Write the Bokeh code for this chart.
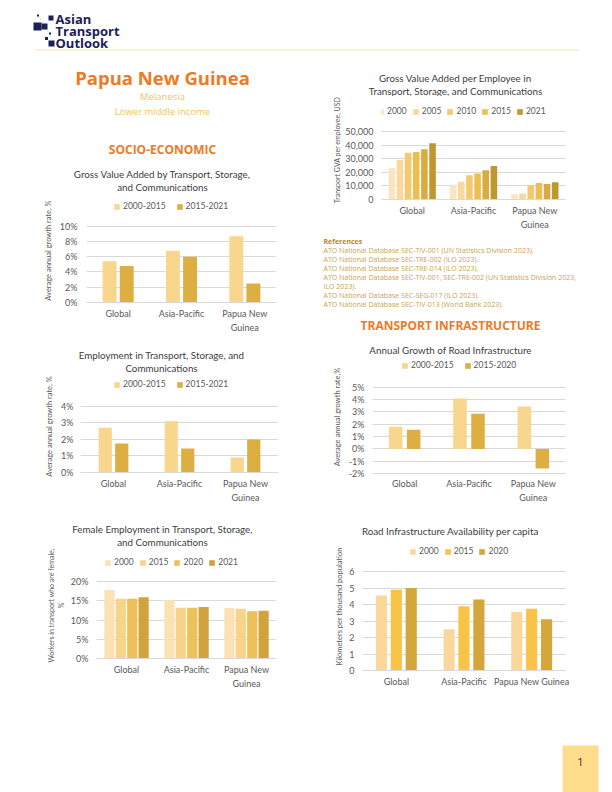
from bokeh.plotting import figure
from bokeh.models import (Range1d, FactorRange, PrintfTickFormatter, NumeralTickFormatter,
                          Legend, LegendItem, ColumnDataSource, CategoricalAxis, Plot,
                          CustomJSTickFormatter)
from bokeh.layouts import column, row
from bokeh.transform import dodge
from bokeh.core.properties import value
from bokeh.embed import file_html
from bokeh.resources import INLINE

# ---------------- data ----------------
regions = ["Global", "Asia-Pacific", "Papua New Guinea"]

gva_periods = ["2000-2015", "2015-2021"]
gva_2000_2015 = [5.4, 6.8, 8.7]
gva_2015_2021 = [4.8, 6.0, 2.5]
gva_ticks = [0, 2, 4, 6, 8, 10]

emp_periods = ["2000-2015", "2015-2021"]
emp_2000_2015 = [2.7, 3.1, 0.9]
emp_2015_2021 = [1.75, 1.45, 2.0]
emp_ticks = [0, 1, 2, 3, 4]

fem_years = ["2000", "2015", "2020", "2021"]
fem_2000 = [17.8, 15.2, 13.1]
fem_2015 = [15.5, 13.2, 12.9]
fem_2020 = [15.5, 13.2, 12.3]
fem_2021 = [15.9, 13.4, 12.4]
fem_ticks = [0, 5, 10, 15, 20]

gvape_years = ["2000", "2005", "2010", "2015", "2020", "2021"]
gvape_2000 = [23000, 10900, 3900]
gvape_2005 = [29000, 13100, 4400]
gvape_2010 = [34400, 17900, 10400]
gvape_2015 = [34900, 19100, 12100]
gvape_2020 = [37000, 21500, 11400]
gvape_2021 = [41400, 24700, 12600]
gvape_legend_years = ["2000", "2005", "2010", "2015", "2021"]
gvape_ticks = [0, 10000, 20000, 30000, 40000, 50000]

road_periods = ["2000-2015", "2015-2020"]
road_2000_2015 = [1.8, 4.1, 3.45]
road_2015_2020 = [1.55, 2.85, -1.6]
road_ticks = [-2, -1, 0, 1, 2, 3, 4, 5]

avail_years = ["2000", "2015", "2020"]
avail_2000 = [4.55, 2.5, 3.55]
avail_2015 = [4.9, 3.9, 3.75]
avail_2020 = [5.0, 4.3, 3.1]
avail_ticks = [0, 1, 2, 3, 4, 5, 6]

references = [
    "ATO National Database SEC-TIV-001 (UN Statistics Division 2023).",
    "ATO National Database SEC-TRE-002 (ILO 2023).",
    "ATO National Database SEC-TRE-014 (ILO 2023).",
    "ATO National Database SEC-TIV-001, SEC-TRE-002 (UN Statistics Division 2023,",
    "ILO 2023).",
    "ATO National Database SEC-SEG-017 (ILO 2023).",
    "ATO National Database SEC-TIV-013 (World Bank 2023).",
]

# ---------------- styles ----------------
FONT = "Lato"
HFONT = "Open Sans"
GRID = "#D9D9D9"
TXT = "#595959"
TITLE = "#404040"
ORANGE = "#EE7A24"
NAVY = "#1B2157"
C2 = ["#F9D68E", "#DDAF42"]
C4 = ["#FCE1B3", "#F8D38A", "#EEC05A", "#D0A33D"]
C6 = ["#FCE4C2", "#FAD89E", "#F5C96F", "#EDBE50", "#D9AC3F", "#BF9731"]
C3 = ["#FAD89C", "#F8C447", "#D4A73D"]
TSIZE = "9.8px"

HAS_FA = "frame_align" in Plot.properties()


def no_align(p):
    if HAS_FA:
        p.frame_align = False
    return p


def text_fig(w, h):
    p = figure(width=w, height=h, x_range=Range1d(0, w), y_range=Range1d(h, 0),
               x_axis_type=None, y_axis_type=None, toolbar_location=None,
               output_backend="svg", min_border=0, outline_line_color=None)
    return no_align(p)


def add_text(p, x, y, t, size, color, font=FONT, style="normal", align="center"):
    p.text(x=[x], y=[y], text=[t], text_font=value(font), text_font_size=size,
           text_color=color, text_align=align, text_baseline="middle",
           text_font_style=style)


def style_xaxis(ax, standoff):
    ax.major_tick_line_color = None
    ax.major_tick_out = 0
    ax.major_tick_in = 0
    ax.minor_tick_line_color = None
    ax.major_label_text_font = FONT
    ax.major_label_text_font_size = "9px"
    ax.major_label_text_color = TXT
    ax.major_label_standoff = standoff


def bar_chart(w, h, fl, ft, fw, fh, yr, ticks, fmt, names, vals, colors, bw, offsets,
              leg_idx, leg_x, leg_dy, leg_sp, ylabel, tstand, lstand, xstand, wrap,
              pad=0, lsize="7.5px"):
    ymin, ymax = yr
    ext = ft - pad  # frame extended upward so the legend is drawn inside it
    ytop = ymax + (ymax - ymin) * ext / fh
    p = figure(width=w, height=h, x_range=FactorRange(*regions), y_range=Range1d(ymin, ytop),
               toolbar_location=None, output_backend="svg",
               min_border_left=fl, min_border_top=pad,
               min_border_right=w - fl - fw, min_border_bottom=h - ft - fh,
               outline_line_color=None)
    no_align(p)
    src = ColumnDataSource(dict(region=regions, **{f"s{i}": v for i, v in enumerate(vals)}))
    rends = []
    for i in range(len(vals)):
        r = p.vbar(x=dodge("region", offsets[i], range=p.x_range), top=f"s{i}", width=bw,
                   source=src, fill_color=colors[i], line_color=None)
        rends.append(r)
    p.xgrid.visible = False
    p.ygrid.grid_line_color = GRID
    p.yaxis.ticker = ticks
    p.yaxis.formatter = fmt
    p.yaxis.axis_line_color = None
    p.yaxis.major_tick_line_color = None
    p.yaxis.minor_tick_line_color = None
    p.yaxis.major_tick_out = 0
    p.yaxis.major_tick_in = 0
    p.yaxis.minor_tick_out = 0
    p.yaxis.major_label_text_font = FONT
    p.yaxis.major_label_text_font_size = "9px"
    p.yaxis.major_label_text_color = TXT
    p.yaxis.major_label_standoff = tstand
    p.yaxis.axis_label = ylabel
    p.yaxis.axis_label_text_font = FONT
    p.yaxis.axis_label_text_font_size = lsize
    p.yaxis.axis_label_text_font_style = "normal"
    p.yaxis.axis_label_text_color = TXT
    p.yaxis.axis_label_standoff = lstand
    xa = p.xaxis[0]
    xa.axis_line_color = GRID
    style_xaxis(xa, xstand)
    if wrap:
        xa.formatter = CustomJSTickFormatter(
            code="return tick == 'Papua New Guinea' ? 'Papua New' : tick;")
        xb = CategoricalAxis(axis_line_color=None,
                             formatter=CustomJSTickFormatter(
                                 code="return tick == 'Papua New Guinea' ? 'Guinea' : '';"))
        style_xaxis(xb, 0)
        p.add_layout(xb, "below")
    p.x_range.range_padding = 0
    p.x_range.group_padding = 0
    items = [LegendItem(label=names[k], renderers=[rends[j]]) for k, j in enumerate(leg_idx)]
    leg = Legend(items=items, location=(leg_x, fh + leg_dy), orientation="horizontal",
                 border_line_color=None, background_fill_alpha=0, padding=0, margin=0,
                 spacing=leg_sp, glyph_width=7, glyph_height=7, label_standoff=3,
                 label_text_font=FONT, label_text_font_size="8.5px", label_text_color=TXT,
                 label_height=9, label_width=10)
    p.add_layout(leg)
    return p


pct = PrintfTickFormatter(format="%d%%")

# ---------------- header ----------------
hdr = text_fig(612, 55)
hdr.line(x=[38, 50], y=[15, 35], line_color="#9AA0B5", line_width=0.6, line_dash="1 1")
hdr.rect(x=[37, 44, 50.5, 37.5, 49.5, 46, 51],
         y=[26, 26, 17.5, 15, 33, 38, 43],
         width=[8, 6, 5, 2, 2, 3, 6], height=[8, 6, 5, 2, 2, 3, 6],
         fill_color=NAVY, line_color=None)
for yy, t in [(18, "Asian"), (30, "Transport"), (42, "Outlook")]:
    add_text(hdr, 55, yy, t, "13px", NAVY, font=HFONT, style="bold", align="left")
hdr.line(x=[35, 578], y=[49.5, 49.5], line_color="#F6E3A6", line_width=1)

# ---------------- left column ----------------
tl1 = text_fig(306, 143)
add_text(tl1, 162, 22, "Papua New Guinea", "18.5px", ORANGE, font=HFONT, style="bold")
add_text(tl1, 162, 41, "Melanesia", "9.5px", "#F6C35A", font=HFONT)
add_text(tl1, 162, 56, "Lower middle income", "9.5px", "#F6C35A", font=HFONT)
add_text(tl1, 162, 94, "SOCIO-ECONOMIC", "12px", ORANGE, font=HFONT, style="bold")
add_text(tl1, 162, 118, "Gross Value Added by Transport, Storage,", TSIZE, TITLE)
add_text(tl1, 162, 131, "and Communications", TSIZE, TITLE)

ch1 = bar_chart(306, 137, 86, 28, 190, 77, (0, 10), gva_ticks, pct, gva_periods,
                [gva_2000_2015, gva_2015_2021], C2, 0.22, [-0.135, 0.135], [0, 1],
                27, 14, 10, "Average annual growth rate, %", 9, 4, 5, True)

tl2 = text_fig(306, 40)
add_text(tl2, 161, 19, "Employment in Transport, Storage, and", TSIZE, TITLE)
add_text(tl2, 161, 32, "Communications", TSIZE, TITLE)

ch2 = bar_chart(306, 130, 80, 32, 198, 69, (0, 4), emp_ticks, pct, emp_periods,
                [emp_2000_2015, emp_2015_2021], C2, 0.2, [-0.125, 0.125], [0, 1],
                33, 14, 10, "Average annual growth rate, %", 7, 4, 5, True, pad=5)

tl3 = text_fig(306, 42)
add_text(tl3, 162, 23, "Female Employment in Transport, Storage,", TSIZE, TITLE)
add_text(tl3, 162, 36, "and Communications", TSIZE, TITLE)

ch3 = bar_chart(306, 148, 96, 34, 180, 77, (0, 20), fem_ticks, pct, fem_years,
                [fem_2000, fem_2015, fem_2020, fem_2021], C4, 0.17,
                [-0.285, -0.095, 0.095, 0.285], [0, 1, 2, 3],
                8, 14, 5, "Workers in transport who are female,\n%", 8, 3, 5, True,
                pad=5, lsize="7px")

left = column(tl1, ch1, tl2, ch2, tl3, ch3, text_fig(306, 97))

# ---------------- right column ----------------
ta = text_fig(306, 41)
add_text(ta, 149, 22, "Gross Value Added per Employee in", TSIZE, TITLE)
add_text(ta, 149, 35, "Transport, Storage, and Communications", TSIZE, TITLE)

step6 = 0.133
cha = bar_chart(306, 136, 75, 35, 184, 68, (0, 50000), gvape_ticks,
                NumeralTickFormatter(format="0,0"), gvape_legend_years,
                [gvape_2000, gvape_2005, gvape_2010, gvape_2015, gvape_2020, gvape_2021],
                C6, 0.107, [(i - 2.5) * step6 for i in range(6)], [0, 1, 2, 3, 5],
                -4, 15, 5, "Transport GVA per employee, USD", 8, 1, 5, True,
                pad=4, lsize="7px")

tr = text_fig(306, 128)
add_text(tr, 17, 9, "References", "7px", "#B8892A", font=HFONT, style="bold", align="left")
for k, line in enumerate(references):
    add_text(tr, 17, [17.5, 26.5, 35.5, 44.5, 53.5, 62.5, 71.5][k], line, "7px", "#CBA24E",
             font=HFONT, align="left")
add_text(tr, 144, 93, "TRANSPORT INFRASTRUCTURE", "12px", ORANGE, font=HFONT, style="bold")
add_text(tr, 144, 117, "Annual Growth of Road Infrastructure", TSIZE, TITLE)

chb = bar_chart(306, 145, 66, 28, 193, 90, (-2, 5), road_ticks, pct, road_periods,
                [road_2000_2015, road_2015_2020], C2, 0.21, [-0.14, 0.14], [0, 1],
                29, 13, 10, "Average annual growth rate,%", 8, 4, 4, True)

tc = text_fig(306, 37)
add_text(tc, 144, 25, "Road Infrastructure Availability per capita", TSIZE, TITLE)

chc = bar_chart(306, 153, 56, 29, 203, 99, (0, 6), avail_ticks,
                PrintfTickFormatter(format="%d"), avail_years,
                [avail_2000, avail_2015, avail_2020], C3, 0.165, [-0.22, 0.0, 0.22], [0, 1, 2],
                47, 15, 5, "Kilometers per thousand population", 8, 2, 5, False)

foot = text_fig(306, 97)
foot.quad(left=[256], right=[292], top=[50], bottom=[97], fill_color="#FDDD8C", line_color=None)
add_text(foot, 274, 66, "1", "11px", "#333333", font=HFONT)

right = column(ta, cha, tr, chb, tc, chc, foot)

page = column(hdr, row(left, right))

open("out.html", "w").write(file_html(page, INLINE))
